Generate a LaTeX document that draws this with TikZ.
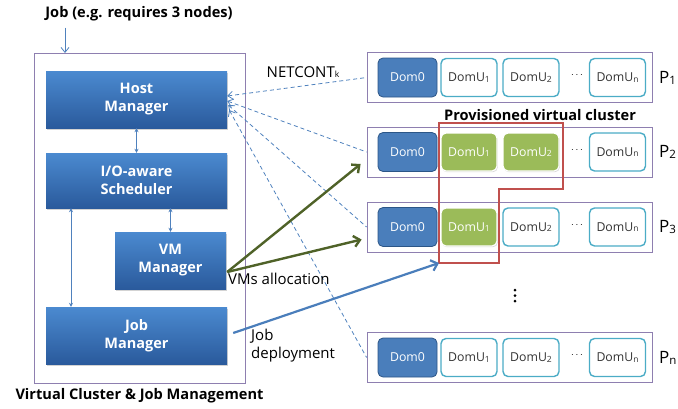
\documentclass[tikz,border=0pt]{standalone}
\usepackage{fontspec}
\setmainfont{Open Sans}
\usetikzlibrary{arrows.meta,shadows}

\definecolor{mgrTop}{HTML}{4B8AD0}
\definecolor{mgrBot}{HTML}{2A5A9C}
\definecolor{domBlue}{HTML}{4A7EBB}
\definecolor{domBlueLine}{HTML}{2C5687}
\definecolor{domTeal}{HTML}{4BACC6}
\definecolor{domGreen}{HTML}{9BBB59}
\definecolor{frameLine}{HTML}{8E7FB0}
\definecolor{allocGreen}{HTML}{4F6228}
\definecolor{deployBlue}{HTML}{4A7EBB}
\definecolor{clusterRed}{HTML}{C0504D}
\definecolor{netBlue}{HTML}{4F81BD}
\definecolor{txtGray}{HTML}{333333}

\newcommand{\sub}[1]{{\fontsize{8.5}{8.5}\selectfont\raisebox{-0.6pt}{#1}}}
\newcommand{\psub}[1]{{\fontsize{11.5}{11.5}\selectfont\raisebox{-1pt}{#1}}}

\begin{document}
\begin{tikzpicture}[x=1pt,y=-1pt,
  mgr/.style={rectangle, top color=mgrTop, bottom color=mgrBot, draw=none,
    text=white, align=center, inner sep=0pt,
    font=\bfseries\fontsize{14.5}{18}\selectfont,
    drop shadow={shadow xshift=1pt, shadow yshift=-1.5pt, opacity=0.35}},
  rowbox/.style={rectangle, draw=frameLine, line width=0.8pt,
    minimum width=285pt, minimum height=50pt, inner sep=0pt},
  dom0/.style={rectangle, rounded corners=5pt, fill=domBlue, draw=domBlueLine,
    line width=0.8pt, minimum width=59pt, minimum height=39pt, text=white,
    font=\fontsize{12.3}{14}\selectfont, inner sep=0pt},
  domu/.style={rectangle, rounded corners=5pt, fill=white, draw=domTeal,
    line width=1.4pt, minimum width=56pt, minimum height=38pt, text=txtGray,
    font=\fontsize{12.3}{14}\selectfont, inner sep=0pt},
  domg/.style={rectangle, rounded corners=5pt, fill=domGreen, draw=white,
    line width=1.2pt, minimum width=56pt, minimum height=38pt, text=white,
    font=\fontsize{12.3}{14}\selectfont, inner sep=0pt,
    drop shadow={shadow xshift=0.8pt, shadow yshift=-1.2pt, opacity=0.3}},
  ctl/.style={draw=netBlue, line width=0.8pt, {Stealth[length=4pt,width=4pt]}-{Stealth[length=4pt,width=4pt]}},
  net/.style={draw=netBlue, line width=0.8pt, dash pattern=on 4pt off 3pt,
    {Straight Barb[length=5pt,width=8pt]}-},
  alloc/.style={draw=allocGreen, line width=2.4pt,
    -{Straight Barb[length=6pt,width=11pt]}},
  deploy/.style={draw=deployBlue, line width=2.2pt,
    -{Straight Barb[length=6pt,width=11pt]}},
  lbl/.style={inner sep=0pt, font=\fontsize{15}{18}\selectfont, text=black},
  ttl/.style={inner sep=0pt, font=\bfseries\fontsize{14.6}{17}\selectfont, text=black},
  plbl/.style={inner sep=0pt, font=\fontsize{17}{19}\selectfont, text=black, anchor=west}]

\useasboundingbox (0,0) rectangle (678,408);

% ---------- management side ----------
\node[ttl] (jobtitle) at (139,14) {Job (e.g. requires 3 nodes)};
\node[draw=frameLine, line width=0.8pt, minimum width=211pt, minimum height=330pt,
  inner sep=0pt] (frame) at (139.5,218) {};
\coordinate (jobin) at (65,53);
\draw[draw=netBlue, line width=0.8pt, -{Straight Barb[length=5pt,width=8pt]}]
  (jobtitle.south -| jobin) ++(0,6) -- (jobin);

\node[mgr, minimum width=181pt, minimum height=57pt] (host) at (136.5,99.5) {Host\\Manager};
\node[mgr, minimum width=181pt, minimum height=55pt] (io) at (136.5,180.5) {I/O-aware\\Scheduler};
\node[mgr, minimum width=111pt, minimum height=57pt] (vm) at (170.5,260.5) {VM\\Manager};
\node[mgr, minimum width=181pt, minimum height=57pt] (job) at (136.5,335.5) {Job\\Manager};

\draw[ctl] (host.south) -- (io.north);
\draw[ctl] (io.south -| vm.north) -- (vm.north);
\draw[ctl] ([xshift=-65.5pt]io.south) -- ([xshift=-65.5pt]job.north);

\node[ttl] (vctitle) at (139.5,396) {Virtual Cluster \& Job Management};

% ---------- physical nodes ----------
\foreach \r/\y in {r1/77.5, r2/152, r3/227, rn/357.5}{
  \node[rowbox] (\r) at (509.5,\y) {};
  \node[dom0] (\r d0) at (407.5,\y) {Dom0};
  \node[inner sep=0pt] (\r dots) at (577,\y-2) {$\cdots$};
  \node[domu] (\r un) at (617.5,\y) {DomU\sub{n}};
}
% first and second guest domains
\node[domu] (r1u1) at (469,77.5) {DomU\sub{1}};
\node[domu] (r1u2) at (531,77.5) {DomU\sub{2}};
\node[domg] (r2u1) at (469,152) {DomU\sub{1}};
\node[domg] (r2u2) at (531,152) {DomU\sub{2}};
\node[domg] (r3u1) at (469,227) {DomU\sub{1}};
\node[domu] (r3u2) at (531,227) {DomU\sub{2}};
\node[domu] (rnu1) at (469,357.5) {DomU\sub{1}};
\node[domu] (rnu2) at (531,357.5) {DomU\sub{2}};

\node[plbl] (p1) at (659,77.5) {P\psub{1}};
\node[plbl] (p2) at (659,152) {P\psub{2}};
\node[plbl] (p3) at (659,227) {P\psub{3}};
\node[plbl] (pn) at (659,357.5) {P\psub{n}};

% vertical ellipsis between the rows
\foreach \yy in {290,295.5,301} \fill (515,\yy) circle (1.5pt);

% provisioned virtual cluster outline
\node[ttl] (pvc) at (540,115) {Provisioned virtual cluster};
\coordinate (clcorner) at (439,263);
\draw[draw=clusterRed, line width=1.6pt]
  (439,123) -- (563,123) -- (563,189) -- (499,189) -- (499,263) -- (clcorner) -- cycle;

% ---------- connectors ----------
\draw[net] ([yshift=3.5pt]host.east) -- (r1.west);
\draw[net] ([yshift=-1.5pt]host.east) -- (r2.west);
\draw[net] ([shift={(1,5.5)}]host.east) -- (r3.west);
\draw[net] ([shift={(2,10.5)}]host.east) -- (rn.west);
\node[lbl] (netlbl) at (303,72) {NETCONT\sub{k}};

\draw[alloc] ([shift={(1,11.5)}]vm.east) -- ([shift={(-6,12)}]r2.west);
\draw[alloc] ([shift={(1,11.5)}]vm.east) -- ([shift={(-5,12.5)}]r3.west);
\node[lbl, anchor=west] (alloclbl) at (228,279) {VMs allocation};

\draw[deploy] ([shift={(6,-2.5)}]job.east) -- (clcorner);
\node[lbl, anchor=north west, align=left] (deplbl) at (251,329) {Job\\deployment};

\end{tikzpicture}
\end{document}
